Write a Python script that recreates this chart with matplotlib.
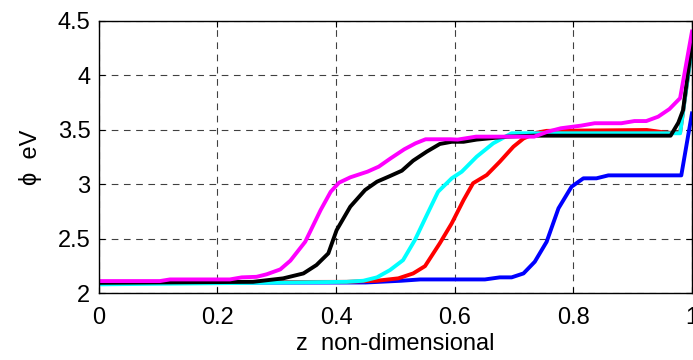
import numpy as np
import matplotlib
matplotlib.use('Agg')
import matplotlib.pyplot as plt

plt.rcParams['font.family'] = ['Liberation Sans', 'DejaVu Sans']

# curves (z non-dimensional, phi in eV)
z_blue = [0, 0.45, 0.51, 0.542, 0.651, 0.676, 0.696, 0.716, 0.735, 0.755,
          0.775, 0.797, 0.817, 0.839, 0.859, 0.982, 1.0]
phi_blue = [2.097, 2.10, 2.116, 2.128, 2.128, 2.147, 2.147, 2.183, 2.29, 2.473,
            2.78, 2.978, 3.055, 3.055, 3.082, 3.082, 3.65]

z_red = [0, 0.418, 0.469, 0.505, 0.530, 0.55, 0.575, 0.595, 0.615, 0.631,
         0.654, 0.676, 0.699, 0.716, 0.738, 0.755, 0.924, 0.957, 0.98, 1.0]
phi_red = [2.10, 2.106, 2.116, 2.138, 2.183, 2.25, 2.46, 2.642, 2.856, 3.01,
           3.085, 3.207, 3.345, 3.42, 3.473, 3.49, 3.498, 3.473, 3.473, 4.25]

z_cyan = [0, 0.266, 0.418, 0.446, 0.469, 0.491, 0.513, 0.533, 0.553, 0.572,
          0.595, 0.612, 0.637, 0.665, 0.696, 0.733, 0.98, 1.0]
phi_cyan = [2.083, 2.097, 2.106, 2.116, 2.147, 2.214, 2.305, 2.49, 2.718, 2.932,
            3.055, 3.116, 3.253, 3.376, 3.468, 3.468, 3.468, 4.25]

z_black = [0, 0.26, 0.311, 0.345, 0.367, 0.387, 0.401, 0.424, 0.449, 0.469,
           0.491, 0.511, 0.530, 0.553, 0.575, 0.595, 0.615, 0.637, 0.688, 0.733,
           0.964, 0.977, 0.985, 1.0]
phi_black = [2.097, 2.106, 2.138, 2.183, 2.26, 2.367, 2.58, 2.795, 2.948, 3.024,
             3.076, 3.125, 3.217, 3.30, 3.37, 3.39, 3.39, 3.41, 3.437, 3.446,
             3.446, 3.565, 3.68, 4.30]

z_mag = [0, 0.103, 0.12, 0.221, 0.241, 0.266, 0.283, 0.306, 0.323, 0.348,
         0.374, 0.391, 0.405, 0.424, 0.453, 0.472, 0.492, 0.515, 0.534, 0.551,
         0.593, 0.605, 0.636, 0.734, 0.757, 0.779, 0.813, 0.836, 0.881, 0.903,
         0.923, 0.943, 0.962, 0.980, 1.0]
phi_mag = [2.113, 2.113, 2.128, 2.128, 2.147, 2.152, 2.175, 2.22, 2.30, 2.473,
           2.764, 2.932, 3.015, 3.064, 3.116, 3.162, 3.238, 3.321, 3.376, 3.413,
           3.413, 3.41, 3.437, 3.437, 3.483, 3.514, 3.538, 3.56, 3.56, 3.58,
           3.58, 3.62, 3.69, 3.79, 4.40]

fig = plt.figure(figsize=(6.93, 3.6), dpi=100)
ax = fig.add_axes([0.1425, 0.185, 0.856, 0.7575])

lw = 2.8
ax.plot(z_blue, phi_blue, color=(0, 0, 1), lw=lw)
ax.plot(z_red, phi_red, color=(1, 0, 0), lw=lw)
ax.plot(z_cyan, phi_cyan, color=(0, 1, 1), lw=lw)
ax.plot(z_black, phi_black, color='k', lw=lw)
ax.plot(z_mag, phi_mag, color=(1, 0, 1), lw=lw)

ax.set_xlim(0, 1)
ax.set_ylim(2, 4.5)
ax.set_xticks([0, 0.2, 0.4, 0.6, 0.8, 1])
ax.set_xticklabels(['0', '0.2', '0.4', '0.6', '0.8', '1'])
ax.set_yticks([2, 2.5, 3, 3.5, 4, 4.5])
ax.set_yticklabels(['2', '2.5', '3', '3.5', '4', '4.5'])
ax.grid(True, color='k', lw=0.8, linestyle=(0, (6, 5)), alpha=0.75)
ax.tick_params(direction='in', length=4, width=0.8, labelsize=17,
               top=True, right=True)
ax.tick_params(axis='x', pad=9.5)
ax.tick_params(axis='y', pad=6)
for s in ax.spines.values():
    s.set_linewidth(1.0)

ax.set_xlabel('z  non-dimensional', fontsize=17, labelpad=3)
ax.set_ylabel('\u03d5  eV', fontsize=17, labelpad=11)

fig.savefig('out.png', dpi=100)
